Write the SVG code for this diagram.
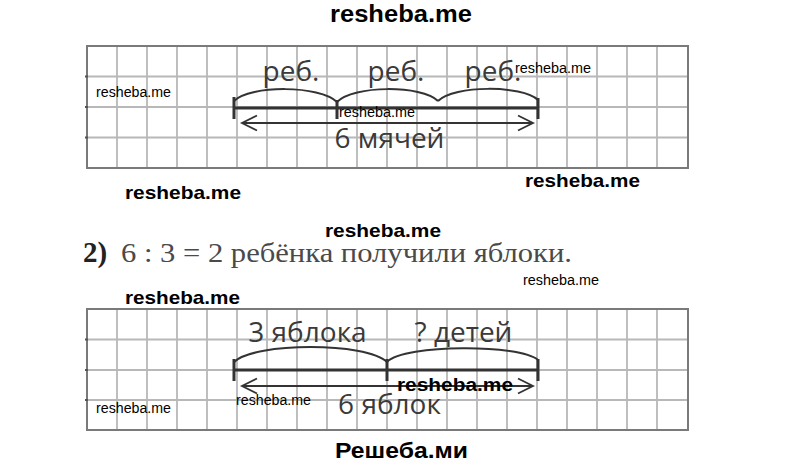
<svg xmlns="http://www.w3.org/2000/svg" width="800" height="464" viewBox="0 0 800 464">
<defs>
<style>
.grid{stroke:#b8b8b8;stroke-width:1.8;fill:none}
.border{stroke:#7a7a7a;stroke-width:2;fill:none}
.seg{stroke:#333;stroke-width:3;fill:none}
.tick{stroke:#333;stroke-width:3}
.arc{stroke:#333;stroke-width:2;fill:none}
.arr{stroke:#333;stroke-width:1.8;fill:none}
.lbl{font-family:"Open Sans","Noto Sans",sans-serif;font-size:28px;fill:#3a3a3a;text-anchor:middle}
.wmb{font-family:"Liberation Sans",Arial,sans-serif;font-weight:bold;fill:#000}
.wms{font-family:"Liberation Sans",Arial,sans-serif;font-size:14px;fill:#000}
</style>
</defs>
<rect width="800" height="464" fill="#fff"/>

<g id="grid-top">
<path class="grid" d="M117,46V168M147,46V168M177,46V168M207,46V168M237,46V168M267,46V168M297,46V168M327,46V168M357,46V168M387,46V168M417,46V168M447,46V168M477,46V168M507,46V168M537,46V168M567,46V168M597,46V168M627,46V168M657,46V168M87,76.5H688M87,107H688M87,137.5H688"/>
<rect class="border" x="87" y="46" width="601" height="122"/>
<path stroke="#555" stroke-width="2" d="M85,76.5h3M85,107h3M85,137.5h3"/>
</g>

<g id="grid-bottom">
<path class="grid" d="M117,309V430M147,309V430M177,309V430M207,309V430M237,309V430M267,309V430M297,309V430M327,309V430M357,309V430M387,309V430M417,309V430M447,309V430M477,309V430M507,309V430M537,309V430M567,309V430M597,309V430M627,309V430M657,309V430M87,339.5H688M87,370H688M87,400H688"/>
<rect class="border" x="87" y="309" width="601" height="121"/>
<path stroke="#555" stroke-width="2" d="M85,339.5h3M85,370h3M85,400h3"/>
</g>

<g id="connectors">
<path class="seg" d="M234,108H538"/>
<path class="tick" d="M234,97V119M337,100V119M538,98V119"/>
<path class="arc" d="M234,101C250,85 320,85 337,102M337,102C353,85 422,85 438,101M438,101C454,85 522,85 538,100"/>
<path class="arr" d="M242,123H533M257,115.5L242,123L257,130.5M518,115.5L533,123L518,130.5"/>

<path class="seg" d="M234,370H538"/>
<path class="tick" d="M234,359V381M387,359V381M538,359V381"/>
<path class="arc" d="M234,362C255,342 366,342 387,362M387,362C405,344 520,344 538,360"/>
<path class="arr" d="M242,386H533M257,378.5L242,386L257,393.5M518,378.5L533,386L518,393.5"/>
</g>

<g id="labels-top">
<text class="lbl" x="291" y="81">реб.</text>
<text class="lbl" x="396" y="81">реб.</text>
<text class="lbl" x="493" y="81">реб.</text>
<text class="lbl" x="389.5" y="148">6 мячей</text>
</g>

<g id="labels-bottom">
<text class="lbl" x="307.5" y="342">3 яблока</text>
<text class="lbl" x="463.5" y="342">? детей</text>
<text class="lbl" x="389.5" y="414">6 яблок</text>
</g>

<g id="solution-text">
<text x="83" y="262" font-family="'Liberation Serif','DejaVu Serif',serif" font-size="29" font-weight="bold" fill="#222">2)</text>
<text x="121" y="262" font-family="'Liberation Serif','DejaVu Serif',serif" font-size="27" fill="#4a4a4a" textLength="451" lengthAdjust="spacingAndGlyphs">6 : 3 = 2 ребёнка получили яблоки.</text>
</g>

<g id="watermarks">
<text class="wmb" x="330" y="22" font-size="23" textLength="142" lengthAdjust="spacingAndGlyphs">resheba.me</text>
<text class="wmb" x="125" y="199" font-size="19" textLength="116" lengthAdjust="spacingAndGlyphs">resheba.me</text>
<text class="wmb" x="525" y="187" font-size="19" textLength="115" lengthAdjust="spacingAndGlyphs">resheba.me</text>
<text class="wmb" x="325" y="237" font-size="19" textLength="116" lengthAdjust="spacingAndGlyphs">resheba.me</text>
<text class="wmb" x="125" y="304" font-size="19" textLength="115" lengthAdjust="spacingAndGlyphs">resheba.me</text>
<text class="wmb" x="397" y="391" font-size="18" textLength="116" lengthAdjust="spacingAndGlyphs">resheba.me</text>
<text class="wms" x="96" y="97" textLength="75" lengthAdjust="spacingAndGlyphs">resheba.me</text>
<text class="wms" x="339" y="117" textLength="76" lengthAdjust="spacingAndGlyphs">resheba.me</text>
<text class="wms" x="515" y="73" textLength="76" lengthAdjust="spacingAndGlyphs">resheba.me</text>
<text class="wms" x="523" y="285" textLength="76" lengthAdjust="spacingAndGlyphs">resheba.me</text>
<text class="wms" x="236" y="405" textLength="75" lengthAdjust="spacingAndGlyphs">resheba.me</text>
<text class="wms" x="96" y="413" textLength="75" lengthAdjust="spacingAndGlyphs">resheba.me</text>
<text class="wmb" x="335" y="458" font-size="22" textLength="133" lengthAdjust="spacingAndGlyphs">Решеба.ми</text>
</g>
</svg>
